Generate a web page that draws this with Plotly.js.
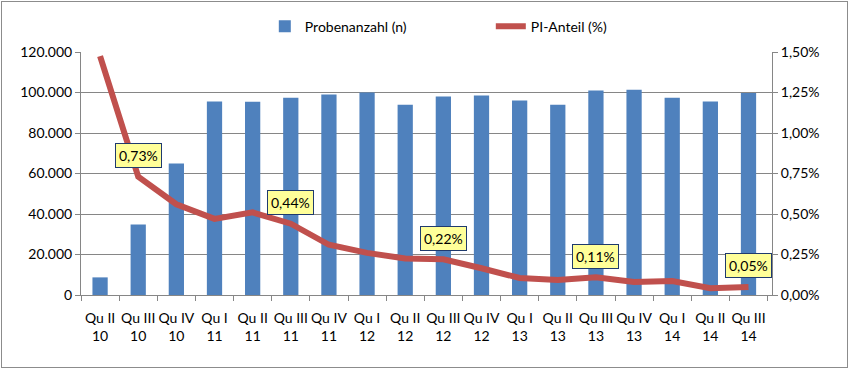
<!DOCTYPE html>
<html>
<head>
<meta charset="utf-8">
<script src="https://cdn.plot.ly/plotly-3.0.1.min.js"></script>
<style>
html,body{margin:0;padding:0;background:#fff;}
#wrap{position:relative;width:850px;height:370px;}
#chart{position:absolute;left:0;top:0;width:850px;height:370px;}
#frame{position:absolute;left:1px;top:1px;width:845px;height:365px;border:1px solid #8c8c8c;pointer-events:none;}
</style>
</head>
<body>
<div id="wrap"><div id="chart"></div><div id="frame"></div></div>
<script>
const categories = ["Qu II<br>10","Qu III<br>10","Qu IV<br>10","Qu I<br>11","Qu II<br>11","Qu III<br>11","Qu IV<br>11","Qu I<br>12","Qu II<br>12","Qu III<br>12","Qu IV<br>12","Qu I<br>13","Qu II<br>13","Qu III<br>13","Qu IV<br>13","Qu I<br>14","Qu II<br>14","Qu III<br>14"];
const probenanzahl = [8700,34800,65000,95600,95400,97400,99000,100000,94000,98000,98500,96000,94000,101000,101300,97400,95500,99700];
const piAnteil = [1.475,0.73,0.56,0.47,0.51,0.44,0.31,0.26,0.225,0.22,0.165,0.105,0.092,0.11,0.08,0.086,0.042,0.05];
const labelIdx = [1,5,9,13,17];

const fontFam = "Lato, 'Open Sans', sans-serif";
const fs = 14;
const annotations = labelIdx.map(i => ({
  x: categories[i], y: piAnteil[i], xref: 'x', yref: 'y2',
  text: piAnteil[i].toFixed(2).replace('.', ',') + '%',
  showarrow: false, yshift: 21,
  bgcolor: '#FFFF99', bordercolor: '#1F3A6E', borderwidth: 1, borderpad: 3,
  font: {family: fontFam, size: fs, color: '#000'}
}));

const data = [
  {type:'bar', name:'Probenanzahl (n)', x:categories, y:probenanzahl,
   marker:{color:'#4F81BD'}, yaxis:'y'},
  {type:'scatter', mode:'lines', name:'PI-Anteil (%)', x:categories, y:piAnteil,
   line:{color:'#C0504D', width:6}, yaxis:'y2'}
];

const layout = {
  width:850, height:370,
  margin:{l:81, r:78, t:51, b:75},
  paper_bgcolor:'#fff', plot_bgcolor:'#fff',
  font:{family:fontFam, size:fs, color:'#000'},
  separators:',.',
  bargap:0.6,
  showlegend:true,
  legend:{orientation:'h', x:0.266, xanchor:'left', y:1.1, yanchor:'middle',
    entrywidth:181, entrywidthmode:'pixels', font:{family:fontFam, size:fs, color:'#000'},
    traceorder:'normal'},
  xaxis:{type:'category', tickson:'boundaries', ticks:'outside', ticklen:5, tickcolor:'#868686',
    showline:true, linecolor:'#868686', linewidth:1, showgrid:false, automargin:false,
    ticklabelstandoff:10,
    tickfont:{family:fontFam, size:fs, color:'#000'}, tickangle:0, fixedrange:true},
  yaxis:{range:[0,120000], dtick:20000, tickformat:',d', ticks:'outside', ticklen:5, tickcolor:'#868686',
    showline:true, linecolor:'#868686', showgrid:true, gridcolor:'#868686', gridwidth:1, automargin:false,
    zeroline:false, tickfont:{family:fontFam, size:fs, color:'#000'}},
  yaxis2:{range:[0,1.5], dtick:0.25, tickformat:'.2f', ticksuffix:'%', overlaying:'y', side:'right',
    ticks:'outside', ticklen:5, tickcolor:'#868686', showline:true, linecolor:'#868686', automargin:false,
    showgrid:false, zeroline:false, tickfont:{family:fontFam, size:fs, color:'#000'}},
  annotations: annotations
};

Plotly.newPlot('chart', data, layout, {displayModeBar:false, staticPlot:true});
</script>
</body>
</html>
